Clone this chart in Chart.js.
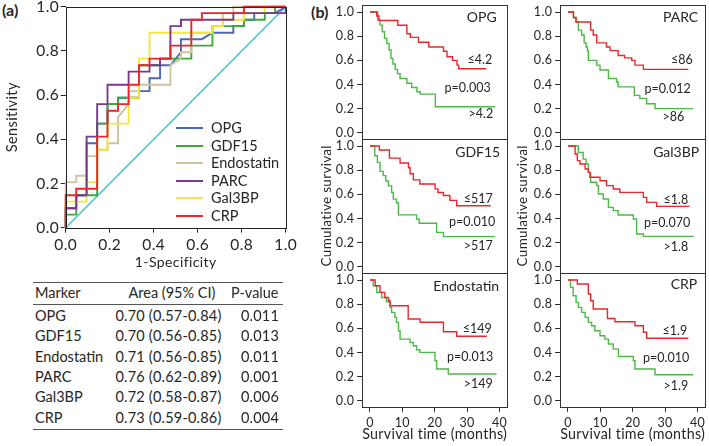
<!DOCTYPE html>
<html><head><meta charset="utf-8">
<script src="https://cdn.jsdelivr.net/npm/chart.js@4.4.0/dist/chart.umd.min.js"></script>
<style>
html,body{margin:0;padding:0;background:#fff;}
#fig{position:relative;width:709px;height:446px;overflow:hidden;font-family:Lato,'Open Sans',sans-serif;color:#262626;}
canvas{position:absolute;}
.t{position:absolute;white-space:nowrap;line-height:1;}
.rule{position:absolute;background:#555;}
</style></head>
<body><div id="fig"></div>
<script>
// ---------- DATA ----------
// ROC curves: [1-specificity, sensitivity]
const rocTicks = [0, 0.2, 0.4, 0.6, 0.8, 1.0];
const rocNames = ['OPG', 'GDF15', 'Endostatin', 'PARC', 'Gal3BP', 'CRP'];
const rocColors = ['#4a67b0', '#3fa83c', '#cdc59c', '#7a3a8c', '#f5e63e', '#e8262c'];
const opgRoc = [[0,0],[0,.088],[.048,.088],[.048,.147],[.095,.147],[.095,.382],[.143,.382],[.143,.471],[.190,.471],[.190,.559],[.238,.559],[.238,.588],[.333,.588],[.333,.618],[.381,.618],[.381,.676],[.429,.676],[.429,.735],[.476,.735],[.524,.794],[.524,.853],[.619,.853],[.667,.882],[.762,.882],[.762,.912],[.810,.912],[.810,.941],[.857,.941],[.857,.971],[.952,.971],[1,1]];
const gdfRoc = [[0,0],[0,.059],[.048,.059],[.048,.147],[.143,.147],[.143,.471],[.190,.471],[.190,.559],[.238,.559],[.238,.588],[.333,.588],[.333,.735],[.429,.735],[.429,.765],[.571,.765],[.571,.824],[.667,.824],[.667,.912],[.810,.912],[.810,.941],[.905,.941],[.905,.971],[.952,.971],[.952,1],[1,1]];
const endoRoc = [[0,0],[0,.206],[.048,.206],[.048,.235],[.095,.235],[.095,.324],[.143,.324],[.143,.353],[.190,.353],[.190,.382],[.238,.382],[.238,.5],[.286,.559],[.286,.618],[.333,.618],[.333,.647],[.476,.647],[.476,.735],[.524,.765],[.524,.794],[.571,.794],[.571,.882],[.667,.882],[.667,.912],[.714,.912],[.714,.971],[.762,.971],[.762,1],[1,1]];
const parcRoc = [[0,0],[0,.088],[.048,.088],[.048,.147],[.095,.147],[.095,.412],[.143,.412],[.143,.559],[.190,.559],[.190,.647],[.286,.647],[.286,.706],[.381,.706],[.381,.735],[.429,.735],[.429,.765],[.476,.765],[.476,.912],[.524,.912],[.524,.941],[.762,.941],[.762,.971],[1,.971],[1,1]];
const gal3Roc = [[0,0],[0,.118],[.095,.118],[.095,.206],[.143,.206],[.143,.353],[.190,.353],[.190,.471],[.286,.471],[.286,.588],[.333,.588],[.333,.765],[.381,.765],[.381,.882],[.667,.882],[.667,.912],[.714,.912],[.714,.941],[.810,.941],[.810,.971],[.905,.971],[.905,1],[1,1]];
const crpRoc = [[0,0],[0,.147],[.048,.147],[.048,.176],[.143,.176],[.143,.412],[.190,.412],[.190,.529],[.238,.529],[.238,.559],[.286,.559],[.286,.647],[.333,.647],[.333,.735],[.381,.735],[.381,.765],[.476,.765],[.476,.824],[.571,.824],[.571,.941],[.619,.941],[.619,.971],[.810,.971],[.810,1],[1,1]];
const refLine = [[0,0],[1,1]];

// Table
const tableHeader = ['Marker', 'Area (95% CI)', 'P-value'];
const aucText = ['0.70 (0.57-0.84)', '0.70 (0.56-0.85)', '0.71 (0.56-0.85)', '0.76 (0.62-0.89)', '0.72 (0.58-0.87)', '0.73 (0.59-0.86)'];
const aucP = ['0.011', '0.013', '0.011', '0.001', '0.006', '0.004'];

// Kaplan-Meier: [months, cumulative survival] (low = below cut-off, high = above)
const kmXTicks = [0, 10, 20, 30, 40];
const kmYTicks = [0, 0.2, 0.4, 0.6, 0.8, 1.0];
const kmNames = ['OPG', 'PARC', 'GDF15', 'Gal3BP', 'Endostatin', 'CRP'];
const kmCuts = ['4.2', '86', '517', '1.8', '149', '1.9'];
const kmP = ['0.003', '0.012', '0.010', '0.070', '0.013', '0.010'];
const opgLow = [[0,1],[2.1,.967],[2.8,.93],[8.6,.89],[11.4,.82],[12.5,.79],[15,.75],[18.2,.71],[22.7,.675],[23.8,.63],[25.5,.60],[26.9,.56],[27.4,.53],[35.9,.53]];
const opgHigh = [[0,1],[2.4,.934],[3.1,.892],[3.8,.837],[4.5,.782],[5.2,.74],[5.9,.685],[6.5,.616],[7.1,.569],[7.8,.525],[8.5,.49],[9.3,.45],[11.4,.41],[12.9,.375],[14.5,.34],[15.5,.32],[20.2,.215],[38.6,.215]];
const parcLow = [[0,1],[1.7,.955],[2.5,.918],[7.0,.85],[7.8,.81],[8.9,.745],[11.9,.71],[13.0,.68],[15.5,.64],[17.5,.62],[19.7,.60],[20.7,.56],[23.3,.525],[37.2,.525]];
const parcHigh = [[0,1],[1.7,.955],[2.5,.918],[3.2,.85],[4.2,.81],[5.0,.745],[5.6,.71],[6.0,.68],[6.3,.60],[8.9,.56],[9.9,.52],[12.5,.45],[15.0,.42],[15.5,.38],[20.5,.31],[22.2,.285],[24.3,.24],[26.9,.20],[38.7,.20]];
const gdfLow = [[0,1],[2.9,.967],[6.0,.90],[9.3,.86],[11.9,.82],[12.4,.77],[13.4,.72],[15.4,.685],[20.1,.645],[21.0,.615],[22.7,.59],[24.7,.55],[26.8,.505],[37.3,.505]];
const gdfHigh = [[0,1],[1.5,.92],[2.3,.865],[3.1,.79],[4.1,.755],[4.9,.71],[5.7,.67],[6.7,.615],[7.2,.56],[8.2,.53],[8.8,.43],[14.4,.395],[15.2,.36],[20.6,.285],[22.7,.25],[38.6,.25]];
const galLow = [[0,1],[2.2,.934],[2.9,.879],[3.7,.851],[5.3,.81],[6.3,.782],[6.8,.741],[9.9,.713],[11.9,.672],[14.0,.644],[16.0,.616],[23.3,.575],[24.3,.533],[27.4,.50],[37.5,.50]];
const galHigh = [[0,1],[3.2,.947],[4.7,.892],[5.6,.851],[6.3,.782],[7.0,.70],[8.9,.672],[9.4,.603],[10.9,.561],[12.5,.492],[14.0,.465],[15.5,.429],[20.2,.396],[21.2,.271],[23.3,.252],[38.9,.252]];
const endoLow = [[0,1],[1.6,.953],[3.1,.898],[4.6,.856],[5.7,.829],[6.2,.787],[11.8,.677],[15.5,.65],[22.7,.572],[26.8,.534],[36.1,.534]];
const endoHigh = [[0,1],[1.0,.953],[2.1,.898],[3.6,.856],[5.1,.82],[6.2,.773],[6.7,.732],[7.7,.691],[8.2,.649],[8.8,.58],[9.3,.511],[12.4,.483],[13.4,.456],[14.4,.423],[15.4,.401],[20.1,.332],[20.6,.263],[24.2,.222],[39.1,.222]];
const crpLow = [[0,1],[2.9,.967],[6.3,.884],[7.0,.829],[7.8,.76],[12.2,.682],[14.5,.655],[20.7,.622],[23.3,.567],[24.3,.518],[37.2,.518]];
const crpHigh = [[0,1],[0.8,.939],[1.6,.87],[2.5,.815],[3.2,.774],[4.2,.732],[5.3,.691],[6.3,.649],[7.3,.622],[8.3,.58],[9.9,.539],[11.4,.511],[12.5,.47],[14.0,.428],[15.6,.367],[20.2,.332],[20.7,.263],[26.9,.216],[38.7,.216]];

// ---------- HELPERS ----------
Chart.defaults.font.family = "Lato, 'Open Sans', sans-serif";
Chart.defaults.color = '#262626';
Chart.defaults.animation = false;
const fig = document.getElementById('fig');
function addCanvas(x, y, w, h) {
  const c = document.createElement('canvas');
  c.width = w; c.height = h;
  Object.assign(c.style, {left: x + 'px', top: y + 'px', width: w + 'px', height: h + 'px'});
  fig.appendChild(c); return c;
}
function txt(s, x, y, o = {}) {
  const d = document.createElement('div');
  d.className = 't'; d.textContent = s;
  d.style.left = x + 'px'; d.style.top = y + 'px';
  d.style.fontSize = (o.size || 12) + 'px';
  if (o.weight) d.style.fontWeight = o.weight;
  if (o.ls) d.style.letterSpacing = o.ls + 'px';
  const tx = o.align === 'right' ? '-100%' : (o.align === 'center' ? '-50%' : '0');
  d.style.transform = `translate(${tx},-50%)`;
  fig.appendChild(d); return d;
}
function rule(x, y, w, h) {
  const d = document.createElement('div'); d.className = 'rule';
  Object.assign(d.style, {left: x + 'px', top: y + 'px', width: w + 'px', height: h + 'px'});
  fig.appendChild(d);
}
const pts = a => a.map(([x, y]) => ({x, y}));
function fixed(size) {
  return s => {
    if (size != null) { if (s.isHorizontal()) s.height = size; else s.width = size; }
    s.paddingLeft = s.paddingRight = s.paddingTop = s.paddingBottom = 0;
  };
}
const setTicks = arr => s => { s.ticks = arr.map(v => ({value: v})); };
const frame = {
  id: 'frame',
  beforeDraw(chart, args, o) { if (o.spacing) chart.ctx.letterSpacing = o.spacing + 'px'; },
  afterDatasetsDraw(chart, args, o) {
    const a = chart.chartArea, c = chart.ctx;
    c.save(); c.strokeStyle = o.color || '#333'; c.lineWidth = 1;
    const l = Math.round(a.left), t = Math.round(a.top), r = Math.round(a.right), b = Math.round(a.bottom);
    c.strokeRect(l + 0.5, t + 0.5, r - l, b - t);
    c.restore();
  }
};

// ---------- PANEL (a): ROC ----------
txt('(a)', 2, 10, {size: 16, weight: 700});
const rocSeries = [opgRoc, gdfRoc, endoRoc, parcRoc, gal3Roc, crpRoc];
const rocOrder = [5, 4, 3, 1, 2, 0];
const rocDatasets = rocSeries.map((s, i) => ({
  label: rocNames[i], data: pts(s), borderColor: rocColors[i], borderWidth: 1.9,
  pointRadius: 0, fill: false, tension: 0, clip: 3, order: rocOrder[i]
}));
rocDatasets.push({label: 'ref', data: pts(refLine), borderColor: '#45c1cb', borderWidth: 1.5, pointRadius: 0, fill: false, clip: 3, order: 10});
const axisCommon = (ticksArr, fmt, size, pad) => ({
  type: 'linear',
  afterBuildTicks: setTicks(ticksArr),
  ticks: {callback: fmt, font: {size}, padding: pad, maxRotation: 0, autoSkip: false, color: '#262626'},
  grid: {display: true, drawOnChartArea: false, drawTicks: true, tickLength: 5, color: '#262626'},
  border: {display: false}
});
new Chart(addCanvas(0, 0, 300, 275), {
  type: 'line',
  data: {datasets: rocDatasets},
  options: {
    responsive: false, animation: false,
    layout: {padding: {left: 0, top: 6.7, right: 14.3, bottom: 4.6}},
    scales: {
      x: Object.assign(axisCommon(rocTicks, v => v.toFixed(1), 15.5, 3), {
        min: 0, max: 1, afterFit: fixed(42.7),
        title: {display: true, text: '1-Specificity', font: {size: 14}, padding: 0, color: '#262626'}
      }),
      y: Object.assign(axisCommon(rocTicks, v => v.toFixed(1), 15.5, 1.5), {
        min: 0, max: 1, afterFit: fixed(65.7),
        title: {display: true, text: 'Sensitivity', font: {size: 14.5}, padding: {top: 4, bottom: 0}, color: '#262626'}
      })
    },
    plugins: {legend: {display: false}, tooltip: {enabled: false}, frame: {color: '#222', spacing: 0.4}}
  },
  plugins: [frame]
});
// legend
rocNames.forEach((n, i) => {
  const y = 128 + i * 17.6;
  const d = document.createElement('div');
  Object.assign(d.style, {position: 'absolute', left: '176px', top: (y - 1) + 'px', width: '27px', height: '2px', background: rocColors[i]});
  fig.appendChild(d);
  txt(n, 211, y, {size: 14.5});
});
// table
rule(33, 281.5, 250, 1.5);
rule(33, 303.8, 250, 1);
rule(33, 428.5, 250, 1.5);
txt(tableHeader[0], 35, 293, {size: 14.5});
txt(tableHeader[1], 172, 293, {size: 14.5, align: 'center'});
txt(tableHeader[2], 278.5, 293, {size: 14.5, align: 'right'});
rocNames.forEach((n, i) => {
  const y = 316 + i * 20.3;
  txt(n, 35, y, {size: 14.5});
  txt(aucText[i], 221.5, y, {size: 14.5, align: 'right', ls: 0.2});
  txt(aucP[i], 279, y, {size: 14.5, align: 'right', ls: 0.2});
});

// ---------- PANEL (b): Kaplan-Meier ----------
txt('(b)', 311, 12, {size: 16, weight: 700});
const kmLow = [opgLow, parcLow, gdfLow, galLow, endoLow, crpLow];
const kmHigh = [opgHigh, parcHigh, gdfHigh, galHigh, endoHigh, crpHigh];
// label offsets relative to plot right edge / plot top: [name, low, p, high]
const labelPos = [
  [[-10.5, 12.5], [-15, 55], [-16.5, 83.5], [-14, 109]],
  [[-7, 12.5], [-12.5, 55], [-14.5, 84], [-21, 112]],
  [[-7, 12.9], [-14.5, 60.5], [-12, 83], [-14.5, 107]],
  [[-6, 13], [-17, 61], [-15, 84.5], [-17, 108]],
  [[-8, 12.9], [-15.5, 56.5], [-14, 84], [-14.5, 111.5]],
  [[-8, 11], [-18, 58], [-16, 85.5], [-17, 113]]
];
for (let k = 0; k < 6; k++) {
  const col = k % 2, row = Math.floor(k / 2);
  const L = col === 0 ? 316 : 512, W = col === 0 ? 194 : 197;
  const plotL = col === 0 ? 362.2 : 560.2, plotR = col === 0 ? 507.2 : 705.2;
  const T = 4.8 + 134 * row;
  const top = row === 0 ? 0 : T - 6.8;
  const H = row === 2 ? 446 - top : 146;
  const padTop = T - top;
  const bottomAxis = row === 2;
  const xH = bottomAxis ? 36 : 0;
  const padBottom = H - padTop - 134 - xH;
  const xAxis = Object.assign(axisCommon(kmXTicks, v => String(v), 12.5, 4), {
    min: -2.4, max: 42.4, display: bottomAxis, afterFit: fixed(bottomAxis ? xH : null),
    title: {display: bottomAxis, text: 'Survival time (months)', font: {size: 14.5}, padding: 0, color: '#262626'}
  });
  const yAxis = Object.assign(axisCommon(kmYTicks, v => v.toFixed(1), 12.5, 3), {
    min: -0.05, max: 1.06, afterFit: fixed(plotL - L),
    title: {display: row === 1, text: 'Cumulative survival', font: {size: 13.5}, padding: {top: 3, bottom: 0}, color: '#262626'}
  });
  new Chart(addCanvas(L, top, W, H), {
    type: 'line',
    data: {datasets: [
      {label: '≤' + kmCuts[k], data: pts(kmLow[k]), borderColor: '#e5282d', borderWidth: 1.4, pointRadius: 0, fill: false, stepped: 'before', clip: 3},
      {label: '>' + kmCuts[k], data: pts(kmHigh[k]), borderColor: '#4cb847', borderWidth: 1.4, pointRadius: 0, fill: false, stepped: 'before', clip: 3}
    ]},
    options: {
      responsive: false, animation: false,
      layout: {padding: {left: 0, top: padTop, right: L + W - plotR, bottom: padBottom}},
      scales: {x: xAxis, y: yAxis},
      plugins: {legend: {display: false}, tooltip: {enabled: false}, frame: {color: '#333', spacing: 0.3}}
    },
    plugins: [frame]
  });
  const p = labelPos[k];
  txt(kmNames[k], plotR + p[0][0], T + p[0][1], {size: 14, align: 'right'});
  txt('≤' + kmCuts[k], plotR + p[1][0], T + p[1][1], {size: 12.5, align: 'right'});
  txt('p=' + kmP[k], plotR + p[2][0], T + p[2][1], {size: 12.5, align: 'right'});
  txt('>' + kmCuts[k], plotR + p[3][0], T + p[3][1], {size: 12.5, align: 'right'});
}
</script></body></html>
